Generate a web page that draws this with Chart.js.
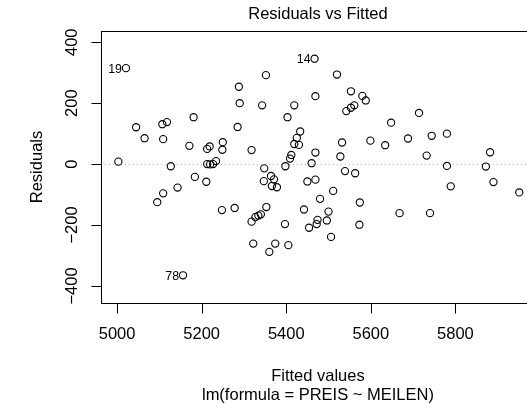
<!DOCTYPE html>
<html lang="en">
<head>
  <meta charset="UTF-8">
  <title>Residuals vs Fitted</title>
  <script src="https://cdn.jsdelivr.net/npm/chart.js@4.4.1/dist/chart.umd.min.js"></script>
  <style>
    html, body {
      margin: 0;
      padding: 0;
      background: #fff;
      overflow: hidden;
    }
    #wrap {
      width: 540px;
      height: 404px;
    }
  </style>
</head>
<body>
  <div id="wrap">
    <canvas id="chart" width="540" height="404"></canvas>
  </div>

  <script>
    // fitted values and residuals of lm(PREIS ~ MEILEN)
    const fitted = [5021, 5288, 5290, 5045, 5107, 5118, 5181, 5285, 5065, 5109,
      5250, 5171, 5219, 5213, 5249, 5318, 5003, 5127, 5213, 5220,
      5227, 5234, 5184, 5211, 5143, 5109, 5095, 5248, 5278, 5156,
      5467, 5352, 5520, 5553, 5580, 5588, 5469, 5343, 5419, 5403,
      5542, 5553, 5561, 5433, 5425, 5419, 5430, 5532, 5599, 5634,
      5412, 5409, 5469, 5528, 5398, 5460, 5348, 5539, 5563, 5364,
      5371, 5347, 5366, 5378, 5450, 5469, 5511, 5480, 5574, 5353,
      5442, 5500, 5340, 5334, 5327, 5318, 5397, 5474, 5472, 5496,
      5454, 5573, 5506, 5322, 5374, 5405, 5360, 5714, 5648, 5688,
      5744, 5780, 5732, 5882, 5780, 5872, 5789, 5890, 5951, 5668, 5740];
    const residuals = [315, 254, 200, 121, 131, 138, 154, 122, 85, 82,
      72, 60, 58, 50, 47, 46, 8, -7, 0, -1,
      0, 10, -42, -58, -77, -96, -125, -151, -144, -365,
      346, 292, 294, 239, 224, 209, 223, 193, 193, 154,
      174, 185, 193, 107, 86, 66, 63, 71, 77, 62,
      30, 18, 38, 25, -7, 3, -14, -23, -30, -39,
      -50, -56, -72, -76, -57, -51, -88, -114, -126, -141,
      -149, -156, -165, -169, -174, -189, -197, -183, -197, -185,
      -209, -199, -239, -261, -261, -266, -288, 168, 136, 84,
      93, 100, 28, 39, -6, -8, -73, -59, -93, -161, -161];

    // observations R labels as the largest residuals
    const idIndex = [0, 30, 29];
    const idText = ['19', '14', '78'];

    const xTicks = [5000, 5200, 5400, 5600, 5800];
    const yTicks = [-400, -200, 0, 200, 400];

    const FONT = '16.5px "Liberation Sans", Arial, sans-serif';

    const rStyle = {
      id: 'rStyle',
      beforeDatasetsDraw(chart) {
        const { ctx, chartArea: a, scales: { y } } = chart;
        const y0 = Math.round(y.getPixelForValue(0)) + 0.5;
        ctx.save();
        ctx.strokeStyle = '#bebebe';
        ctx.lineWidth = 1;
        ctx.setLineDash([1, 3]);
        ctx.beginPath();
        ctx.moveTo(a.left, y0);
        ctx.lineTo(a.right, y0);
        ctx.stroke();
        ctx.restore();
      },
      afterDraw(chart) {
        const { ctx, chartArea: a, scales: { x, y } } = chart;
        const L = Math.round(a.left) + 0.5;
        const B = Math.round(a.bottom) + 0.5;
        ctx.save();
        ctx.strokeStyle = '#000';
        ctx.lineWidth = 1;
        ctx.strokeRect(L, Math.round(a.top) + 0.5, Math.round(a.right) - Math.round(a.left), Math.round(a.bottom) - Math.round(a.top));

        ctx.fillStyle = '#000';
        ctx.font = FONT;

        // x axis
        ctx.beginPath();
        ctx.moveTo(x.getPixelForValue(xTicks[0]), B);
        ctx.lineTo(x.getPixelForValue(xTicks[xTicks.length - 1]), B);
        xTicks.forEach(v => {
          const px = Math.round(x.getPixelForValue(v)) + 0.5;
          ctx.moveTo(px, B);
          ctx.lineTo(px, B + 10);
        });
        ctx.stroke();
        ctx.textAlign = 'center';
        ctx.textBaseline = 'middle';
        xTicks.forEach(v => ctx.fillText(String(v), x.getPixelForValue(v), 334));

        // y axis
        ctx.beginPath();
        ctx.moveTo(L, y.getPixelForValue(yTicks[0]));
        ctx.lineTo(L, y.getPixelForValue(yTicks[yTicks.length - 1]));
        yTicks.forEach(v => {
          const py = Math.round(y.getPixelForValue(v)) + 0.5;
          ctx.moveTo(L, py);
          ctx.lineTo(L - 10, py);
        });
        ctx.stroke();
        yTicks.forEach(v => {
          ctx.save();
          ctx.translate(72, y.getPixelForValue(v));
          ctx.rotate(-Math.PI / 2);
          ctx.fillText(v < 0 ? '\u2212' + Math.abs(v) : String(v), 0, 0);
          ctx.restore();
        });

        // titles
        const cx = (a.left + a.right) / 2;
        ctx.fillText('Residuals vs Fitted', cx, 14);
        ctx.fillText('Fitted values', cx, 376);
        ctx.fillText('lm(formula = PREIS ~ MEILEN)', cx, 395);
        ctx.save();
        ctx.translate(37, (a.top + a.bottom) / 2);
        ctx.rotate(-Math.PI / 2);
        ctx.fillText('Residuals', 0, 0);
        ctx.restore();

        // id labels
        ctx.font = '12.4px "Liberation Sans", Arial, sans-serif';
        ctx.textAlign = 'right';
        idIndex.forEach((i, k) => {
          ctx.fillText(idText[k], x.getPixelForValue(fitted[i]) - 4, y.getPixelForValue(residuals[i]) + 1);
        });
        ctx.restore();
      }
    };

    const ctx = document.querySelector('#chart').getContext('2d');
    const chart = new Chart(ctx, {
      type: 'scatter',
      data: {
        datasets: [{
          data: fitted.map((f, i) => ({ x: f, y: residuals[i] })),
          pointStyle: 'circle',
          pointRadius: 3.6,
          pointBorderWidth: 1.1,
          borderColor: '#000',
          backgroundColor: 'rgba(0,0,0,0)'
        }]
      },
      options: {
        responsive: false,
        animation: false,
        devicePixelRatio: 1,
        layout: { padding: { left: 101, top: 31, right: 3, bottom: 101 } },
        plugins: {
          legend: { display: false },
          tooltip: { enabled: false }
        },
        scales: {
          x: { type: 'linear', min: 4962, max: 5988, display: false },
          y: { type: 'linear', min: -456, max: 437, display: false }
        }
      },
      plugins: [rStyle]
    });
  </script>
</body>
</html>
